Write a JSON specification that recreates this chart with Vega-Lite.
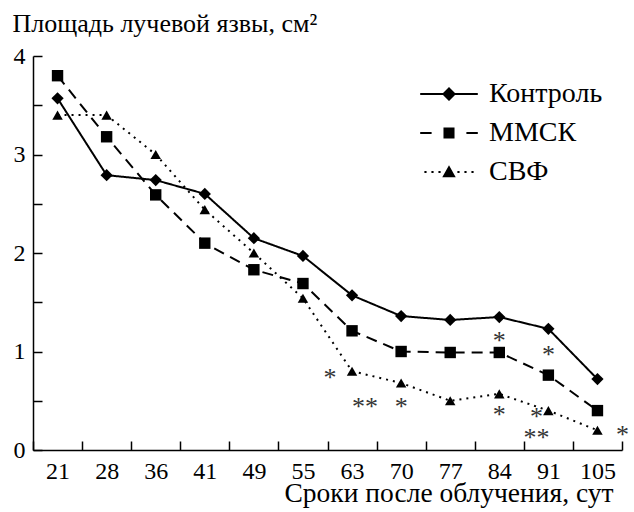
{
  "$schema": "https://vega.github.io/schema/vega-lite/v6.json",
  "width": 589,
  "height": 394,
  "autosize": "none",
  "padding": {"left": 33, "top": 56, "right": 12, "bottom": 62},
  "background": "white",
  "config": {
    "view": {"stroke": null},
    "font": "Liberation Serif",
    "axis": {"grid": false, "domainColor": "black", "domainWidth": 1.5, "tickColor": "black", "tickWidth": 1.5, "labelColor": "black", "titleColor": "black", "labelFont": "Liberation Serif", "titleFont": "Liberation Serif", "labelFontSize": 24, "titleFontSize": 26, "titleFontWeight": "normal"},
    "legend": {"labelFont": "Liberation Serif", "labelFontSize": 28, "labelColor": "black", "labelFontWeight": "normal"}
  },
  "datasets": {
    "series": [
      {"day": 21, "group": "Контроль", "v": 3.57},
      {"day": 28, "group": "Контроль", "v": 2.79},
      {"day": 36, "group": "Контроль", "v": 2.74},
      {"day": 41, "group": "Контроль", "v": 2.60},
      {"day": 49, "group": "Контроль", "v": 2.15},
      {"day": 55, "group": "Контроль", "v": 1.97},
      {"day": 63, "group": "Контроль", "v": 1.57},
      {"day": 70, "group": "Контроль", "v": 1.36},
      {"day": 77, "group": "Контроль", "v": 1.32},
      {"day": 84, "group": "Контроль", "v": 1.35},
      {"day": 91, "group": "Контроль", "v": 1.23},
      {"day": 105, "group": "Контроль", "v": 0.72},
      {"day": 21, "group": "ММСК", "v": 3.80},
      {"day": 28, "group": "ММСК", "v": 3.18},
      {"day": 36, "group": "ММСК", "v": 2.59},
      {"day": 41, "group": "ММСК", "v": 2.10},
      {"day": 49, "group": "ММСК", "v": 1.83},
      {"day": 55, "group": "ММСК", "v": 1.69},
      {"day": 63, "group": "ММСК", "v": 1.21},
      {"day": 70, "group": "ММСК", "v": 1.00},
      {"day": 77, "group": "ММСК", "v": 0.99},
      {"day": 84, "group": "ММСК", "v": 0.99},
      {"day": 91, "group": "ММСК", "v": 0.76},
      {"day": 105, "group": "ММСК", "v": 0.40},
      {"day": 21, "group": "СВФ", "v": 3.40},
      {"day": 28, "group": "СВФ", "v": 3.40},
      {"day": 36, "group": "СВФ", "v": 3.00},
      {"day": 41, "group": "СВФ", "v": 2.44},
      {"day": 49, "group": "СВФ", "v": 2.00},
      {"day": 55, "group": "СВФ", "v": 1.54},
      {"day": 63, "group": "СВФ", "v": 0.80},
      {"day": 70, "group": "СВФ", "v": 0.68},
      {"day": 77, "group": "СВФ", "v": 0.50},
      {"day": 84, "group": "СВФ", "v": 0.57},
      {"day": 91, "group": "СВФ", "v": 0.40},
      {"day": 105, "group": "СВФ", "v": 0.20}
    ],
    "stars": [
      {"day": 63, "v": 0.78, "t": "*", "side": "L"},
      {"day": 63, "v": 0.49, "t": "**", "side": "R1"},
      {"day": 70, "v": 0.49, "t": "*", "side": "C"},
      {"day": 84, "v": 1.16, "t": "*", "side": "C"},
      {"day": 84, "v": 0.41, "t": "*", "side": "C"},
      {"day": 91, "v": 1.02, "t": "*", "side": "C"},
      {"day": 91, "v": 0.39, "t": "*", "side": "L2"},
      {"day": 91, "v": 0.17, "t": "**", "side": "L2"},
      {"day": 105, "v": 0.20, "t": "*", "side": "R2"}
    ]
  },
  "resolve": {"scale": {"shape": "independent", "size": "independent"}, "legend": {"shape": "independent"}},
  "encoding": {
    "x": {
      "field": "day", "type": "ordinal", "bandPosition": 0.5,
      "scale": {"type": "band", "domain": [21, 28, 36, 41, 49, 55, 63, 70, 77, 84, 91, 105], "paddingInner": 0, "paddingOuter": 0},
      "axis": {"title": "Сроки после облучения, сут", "labelFont": "Liberation Serif", "labelAngle": 0, "tickBand": "extent", "tickSize": -9, "labelPadding": 18, "titleAlign": "right", "titleAnchor": null, "titleX": 580, "titleY": 51, "titleBaseline": "alphabetic", "titleFontSize": 27.5}
    },
    "y": {
      "field": "v", "type": "quantitative",
      "scale": {"domain": [0, 4], "nice": false, "zero": true},
      "axis": {"title": "Площадь лучевой язвы, см²", "labelFont": "Liberation Serif", "values": [0, 0.5, 1, 1.5, 2, 2.5, 3, 3.5, 4], "labelExpr": "datum.value % 1 === 0 ? format(datum.value, 'd') : ''", "tickSize": -9, "labelPadding": 17, "titleAngle": 0, "titleAlign": "left", "titleBaseline": "alphabetic", "titleX": -21, "titleY": -25, "titleFontSize": 26}
    }
  },
  "layer": [
    {
      "data": {"name": "series"},
      "mark": {"type": "line", "color": "black", "strokeWidth": 2},
      "encoding": {
        "strokeDash": {
          "field": "group", "type": "nominal",
          "scale": {"domain": ["Контроль", "ММСК", "СВФ"], "range": [[1, 0], [11, 7], [2, 5]]},
          "legend": null
        }
      }
    },
    {
      "data": {"name": "series"},
      "mark": {"type": "point", "filled": true, "color": "black", "opacity": 1},
      "encoding": {
        "shape": {"field": "group", "type": "nominal", "scale": {"domain": ["Контроль", "ММСК", "СВФ"], "range": ["diamond", "square", "triangle-up"]}, "legend": null},
        "size": {"field": "group", "type": "nominal", "scale": {"domain": ["Контроль", "ММСК", "СВФ"], "range": [150, 110, 120]}, "legend": null}
      }
    },
    {
      "data": {"name": "series"},
      "mark": {"type": "point", "filled": true, "color": "black", "opacity": 0, "size": 576, "strokeWidth": 0},
      "encoding": {
        "shape": {
          "field": "group", "type": "nominal",
          "scale": {"domain": ["Контроль", "ММСК", "СВФ"], "range": [
            "M-2.4,-0.08L-0.5,-0.08L0,-0.58L0.5,-0.08L2.4,-0.08L2.4,0.08L0.5,0.08L0,0.58L-0.5,0.08L-2.4,0.08Z",
            "M-2.4,-0.08L-1.45,-0.08L-1.45,0.08L-2.4,0.08ZM1.45,-0.08L2.4,-0.08L2.4,0.08L1.45,0.08ZM-0.46,-0.46L0.46,-0.46L0.46,0.46L-0.46,0.46Z",
            "M-2.05,-0.09L-1.87,-0.09L-1.87,0.09L-2.05,0.09ZM-1.465,-0.09L-1.285,-0.09L-1.285,0.09L-1.465,0.09ZM-0.88,-0.09L-0.7,-0.09L-0.7,0.09L-0.88,0.09ZM0.7,-0.09L0.88,-0.09L0.88,0.09L0.7,0.09ZM1.285,-0.09L1.465,-0.09L1.465,0.09L1.285,0.09ZM1.87,-0.09L2.05,-0.09L2.05,0.09L1.87,0.09ZM0,-0.56L0.56,0.44L-0.56,0.44Z"
          ]},
          "legend": {
            "title": null, "orient": "none", "legendX": 402, "legendY": 24, "padding": 0,
            "symbolSize": 576, "symbolOpacity": 1, "symbolStrokeWidth": 0, "symbolFillColor": "black",
            "labelOffset": 26, "labelFont": "Liberation Serif", "labelFontSize": 28, "labelColor": "black", "rowPadding": 11
          }
        }
      }
    },
    {
      "data": {"name": "stars"},
      "transform": [{"filter": "datum.side === 'C'"}],
      "mark": {"type": "text", "font": "Liberation Serif", "fontSize": 26, "fill": "#333", "baseline": "middle", "dy": 5},
      "encoding": {"text": {"field": "t"}}
    },
    {
      "data": {"name": "stars"},
      "transform": [{"filter": "datum.side === 'L'"}],
      "mark": {"type": "text", "font": "Liberation Serif", "fontSize": 26, "fill": "#333", "baseline": "middle", "dy": 5, "dx": -22},
      "encoding": {"text": {"field": "t"}}
    },
    {
      "data": {"name": "stars"},
      "transform": [{"filter": "datum.side === 'L2'"}],
      "mark": {"type": "text", "font": "Liberation Serif", "fontSize": 26, "fill": "#333", "baseline": "middle", "dy": 5, "dx": -12},
      "encoding": {"text": {"field": "t"}}
    },
    {
      "data": {"name": "stars"},
      "transform": [{"filter": "datum.side === 'R1'"}],
      "mark": {"type": "text", "font": "Liberation Serif", "fontSize": 26, "fill": "#333", "baseline": "middle", "dy": 5, "dx": 13},
      "encoding": {"text": {"field": "t"}}
    },
    {
      "data": {"name": "stars"},
      "transform": [{"filter": "datum.side === 'R2'"}],
      "mark": {"type": "text", "font": "Liberation Serif", "fontSize": 26, "fill": "#333", "baseline": "middle", "dy": 5, "dx": 25},
      "encoding": {"text": {"field": "t"}}
    }
  ]
}
